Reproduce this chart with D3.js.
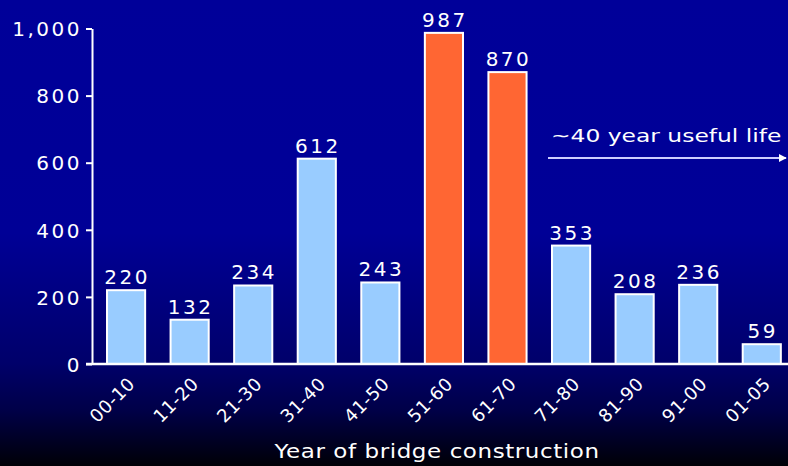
<!DOCTYPE html>
<html><head><meta charset="utf-8">
<script src="https://cdn.jsdelivr.net/npm/d3@7"></script>
<style>html,body{margin:0;padding:0;background:#000066;}svg{display:block;}</style>
</head><body>
<script>
const categories = ["00-10","11-20","21-30","31-40","41-50","51-60","61-70","71-80","81-90","91-00","01-05"];
const values = [220,132,234,612,243,987,870,353,208,236,59];
const highlighted = ["51-60","61-70"];
const yTicks = [0,200,400,600,800,1000];
const xTitle = "Year of bridge construction";
const annotation = "~40 year useful life";

const W = 788, H = 466;
const svg = d3.select("body").append("svg").attr("width", W).attr("height", H);
const defs = svg.append("defs");
const grad = defs.append("linearGradient").attr("id","bg").attr("x1",0).attr("y1",0).attr("x2",0).attr("y2",1);
[[0,"#000099"],[0.5,"#000096"],[0.78,"#00006a"],[0.88,"#000048"],[1,"#000006"]].forEach(([o,c])=>grad.append("stop").attr("offset",o).attr("stop-color",c));
defs.append("marker").attr("id","arr").attr("viewBox","0 0 10 10").attr("refX",9).attr("refY",5)
  .attr("markerWidth",4).attr("markerHeight",4).attr("orient","auto")
  .append("path").attr("d","M0,0L10,5L0,10z").attr("fill","#ffffff");
svg.append("rect").attr("width",W).attr("height",H).attr("fill","url(#bg)");

const x0 = 92, yTop = 28.5, yBot = 364;
const step = 63.57;
const x = d3.scaleBand().domain(categories)
  .range([x0, x0 + step*(categories.length - 0.4 + 2*0.236)])
  .paddingInner(0.4).paddingOuter(0.236);
const y = d3.scaleLinear().domain([0,1000]).range([yBot, yTop]);

const font = "'DejaVu Sans', Verdana, sans-serif";

// bars
svg.append("g").selectAll("rect").data(categories).join("rect")
  .attr("x", d => x(d))
  .attr("y", (d,i) => y(values[i]))
  .attr("width", x.bandwidth())
  .attr("height", (d,i) => y(0) - y(values[i]))
  .attr("fill", d => highlighted.includes(d) ? "#ff6633" : "#99ccff")
  .attr("stroke", "#ffffff").attr("stroke-width", 2);

// value labels
svg.append("g").selectAll("text").data(categories).join("text")
  .attr("x", d => x(d) + x.bandwidth()/2 + 1)
  .attr("y", (d,i) => y(values[i]) - 6)
  .attr("text-anchor","middle")
  .attr("fill","#ffffff").attr("font-family",font).attr("font-size",20)
  .attr("letter-spacing", 2.5)
  .text((d,i) => values[i]);

// y axis
const yAxis = d3.axisLeft(y).tickValues(yTicks).tickSize(6).tickSizeOuter(0)
  .tickFormat(d3.format(","));
const gy = svg.append("g").attr("transform",`translate(${x0},0)`).call(yAxis);
gy.select(".domain").attr("stroke","#ffffff").attr("stroke-width",2);
gy.selectAll(".tick line").attr("stroke","#ffffff").attr("stroke-width",2);
gy.selectAll(".tick text").attr("fill","#ffffff").attr("font-family",font).attr("font-size",20)
  .attr("letter-spacing",2.5).attr("x",-10).attr("dy","0.36em");

// x axis
const xAxis = d3.axisBottom(x).tickSize(0).tickSizeOuter(0);
const gx = svg.append("g").attr("transform",`translate(0,${yBot})`).call(xAxis);
gx.select(".domain").attr("d", `M${x0 - 6},0H${W}`).attr("stroke","#ffffff").attr("stroke-width",2.5);
gx.selectAll(".tick text").attr("fill","#ffffff").attr("font-family",font).attr("font-size",18)
  .attr("letter-spacing",0.5)
  .attr("text-anchor","end").attr("dy",0).attr("y",0)
  .attr("transform","translate(10,21) rotate(-45)");

// x title
svg.append("g").attr("transform","translate(437,458) scale(1.15,1)")
  .append("text").attr("x",0).attr("y",0).attr("text-anchor","middle")
  .attr("fill","#ffffff").attr("font-family",font).attr("font-size",20)
  .attr("letter-spacing",0.5).text(xTitle);

// annotation
svg.append("g").attr("transform","translate(551,142) scale(1.3,1)")
  .append("text").attr("x",0).attr("y",0)
  .attr("fill","#ffffff").attr("font-family",font).attr("font-size",18)
  .text(annotation);
svg.append("line").attr("x1",548).attr("x2",786).attr("y1",158).attr("y2",158)
  .attr("stroke","#ccccff").attr("stroke-width",2).attr("marker-end","url(#arr)");
</script>
</body></html>
